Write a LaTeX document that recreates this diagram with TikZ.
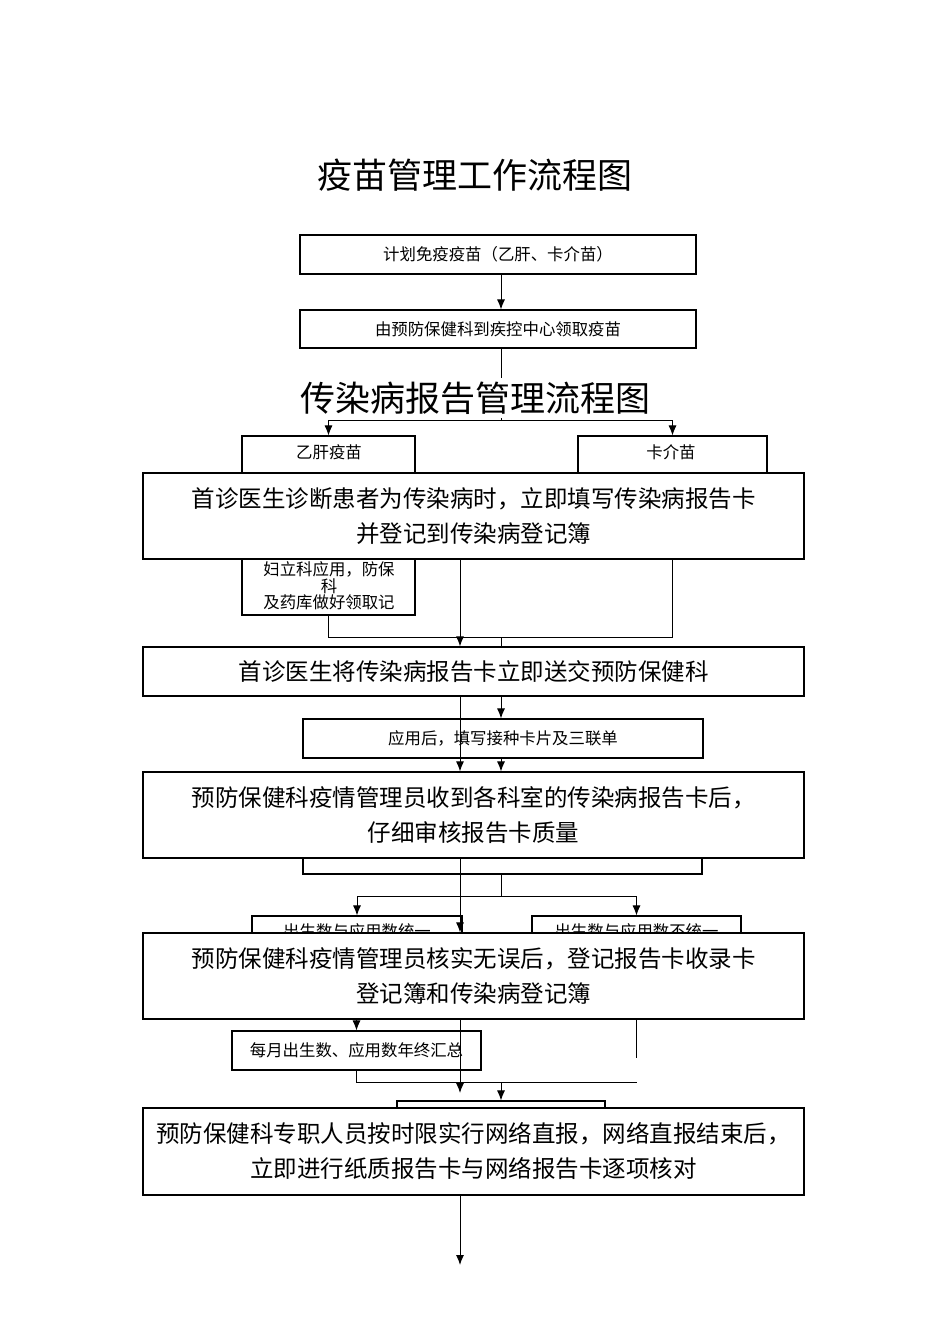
\documentclass[tikz,border=0pt]{standalone}
\usepackage{fontspec}
\newfontfamily\cjk{Noto Sans CJK SC}
\usetikzlibrary{arrows.meta, positioning}
\pgfdeclarelayer{back}
\pgfsetlayers{back,main}

\begin{document}
\begin{tikzpicture}[x=1pt, y=-1pt,
    titletext/.style={font=\cjk\fontsize{35}{40}\selectfont, inner sep=2pt},
    bigbox/.style={draw, line width=1.2pt, fill=white, minimum width=661pt, align=center,
      inner sep=0pt, font=\cjk\fontsize{23.5}{35}\selectfont},
    smallbox/.style={draw, line width=1.1pt, fill=white, inner sep=0pt, align=center,
      font=\cjk\fontsize{16.4}{16.5}\selectfont},
    smalltext/.style={inner sep=0pt, align=center, font=\cjk\fontsize{16.4}{16.5}\selectfont},
    link/.style={line width=1pt},
    arr/.style={line width=1pt, -{Latex[length=10pt, width=8pt]}}]
  \useasboundingbox (0,0) rectangle (950,1344);

  \node[titletext] (title1) at (475,175) {疫苗管理工作流程图};
  \node[titletext, fill=white, minimum height=40pt] (title2) at (475,398) {传染病报告管理流程图};

  \node[bigbox, minimum height=86pt] (A) at (473.5,516) {首诊医生诊断患者为传染病时，立即填写传染病报告卡\\并登记到传染病登记簿};
  \node[bigbox, minimum height=49pt] (B) at (473.5,671.5) {首诊医生将传染病报告卡立即送交预防保健科};
  \node[bigbox, minimum height=86pt] (C) at (473.5,815) {预防保健科疫情管理员收到各科室的传染病报告卡后，\\仔细审核报告卡质量};
  \node[bigbox, minimum height=86pt] (D) at (473.5,976) {预防保健科疫情管理员核实无误后，登记报告卡收录卡\\登记簿和传染病登记簿};
  \node[bigbox, minimum height=87pt] (E) at (473.5,1151.5) {预防保健科专职人员按时限实行网络直报，网络直报结束后，\\立即进行纸质报告卡与网络报告卡逐项核对};

  \begin{pgfonlayer}{back}
    \node[smallbox, minimum width=396pt, minimum height=39pt] (v1) at (498,254.5) {计划免疫疫苗（乙肝、卡介苗）};
    \node[smallbox, minimum width=396pt, minimum height=38pt] (v2) at (498,329) {由预防保健科到疾控中心领取疫苗};
    \node[smallbox, minimum width=173pt, minimum height=179pt] (hbv) at (328.5,525.5) {};
    \node[smalltext] (hbvtop) at (329,452) {乙肝疫苗};
    \node[smalltext] (hbvlow) at (329,586) {妇立科应用，防保\\科\\及药库做好领取记};
    \node[smallbox, minimum width=189pt, minimum height=64pt] (bcg) at (672.5,468) {};
    \node[smalltext] (bcgtop) at (671,452) {卡介苗};
    \node[smallbox, minimum width=400pt, minimum height=39pt] (v3) at (503,738.5) {应用后，填写接种卡片及三联单};
    \node[smallbox, minimum width=399pt, minimum height=102pt] (v4) at (502.5,823) {};
    \node[smallbox, minimum width=210pt, minimum height=30pt] (v5) at (357,931) {出生数与应用数统一};
    \node[smallbox, minimum width=209pt, minimum height=30pt] (v6) at (636.5,931) {出生数与应用数不统一};
    \node[smallbox, minimum width=249pt, minimum height=39pt] (v7) at (356.5,1050.5) {每月出生数、应用数年终汇总};
    \node[smallbox, minimum width=208pt, minimum height=39pt] (v8) at (501,1120.5) {};

    \coordinate (vc) at (501,0);
    \coordinate (s1) at (501,420);
    \coordinate (s2) at (501,637);
    \coordinate (s3) at (501,896);
    \coordinate (s4) at (501,1082);
    \coordinate (v6end) at (636.5,1058);

    \draw[arr] (v1.south -| vc) -- (v2.north -| vc);
    \draw[link] (v2.south -| vc) -- (s1);
    \draw[arr] (s1) -| (hbv.north);
    \draw[arr] (s1) -| (bcg.north);
    \draw[link] (hbv.south) |- (s2);
    \draw[link] (bcg.south) |- (s2);
    \draw[link] (s2) -- (B.north -| s2);
    \draw[arr] (B.south -| vc) -- (v3.north -| vc);
    \draw[arr] (v3.south -| vc) -- (v4.north -| vc);
    \draw[link] (v4.south -| vc) -- (s3);
    \draw[arr] (s3) -| (v5.north);
    \draw[arr] (s3) -| (v6.north);
    \draw[arr] (v5.south -| v7) -- (v7.north);
    \draw[link] (v6.south) -- (v6end);
    \draw[link] (v7.south) |- (v6end |- s4);
    \draw[arr] (s4) -- (v8.north -| s4);
  \end{pgfonlayer}

  \coordinate (m) at (460,0);
  \coordinate (dend) at (460,1093);
  \coordinate (eend) at (460,1265);
  \draw[arr] (A.south -| m) -- (B.north -| m);
  \draw[arr] (B.south -| m) -- (C.north -| m);
  \draw[arr] (C.south -| m) -- (D.north -| m);
  \draw[arr] (D.south -| m) -- (dend);
  \draw[arr] (E.south -| m) -- (eend);
\end{tikzpicture}
\end{document}
